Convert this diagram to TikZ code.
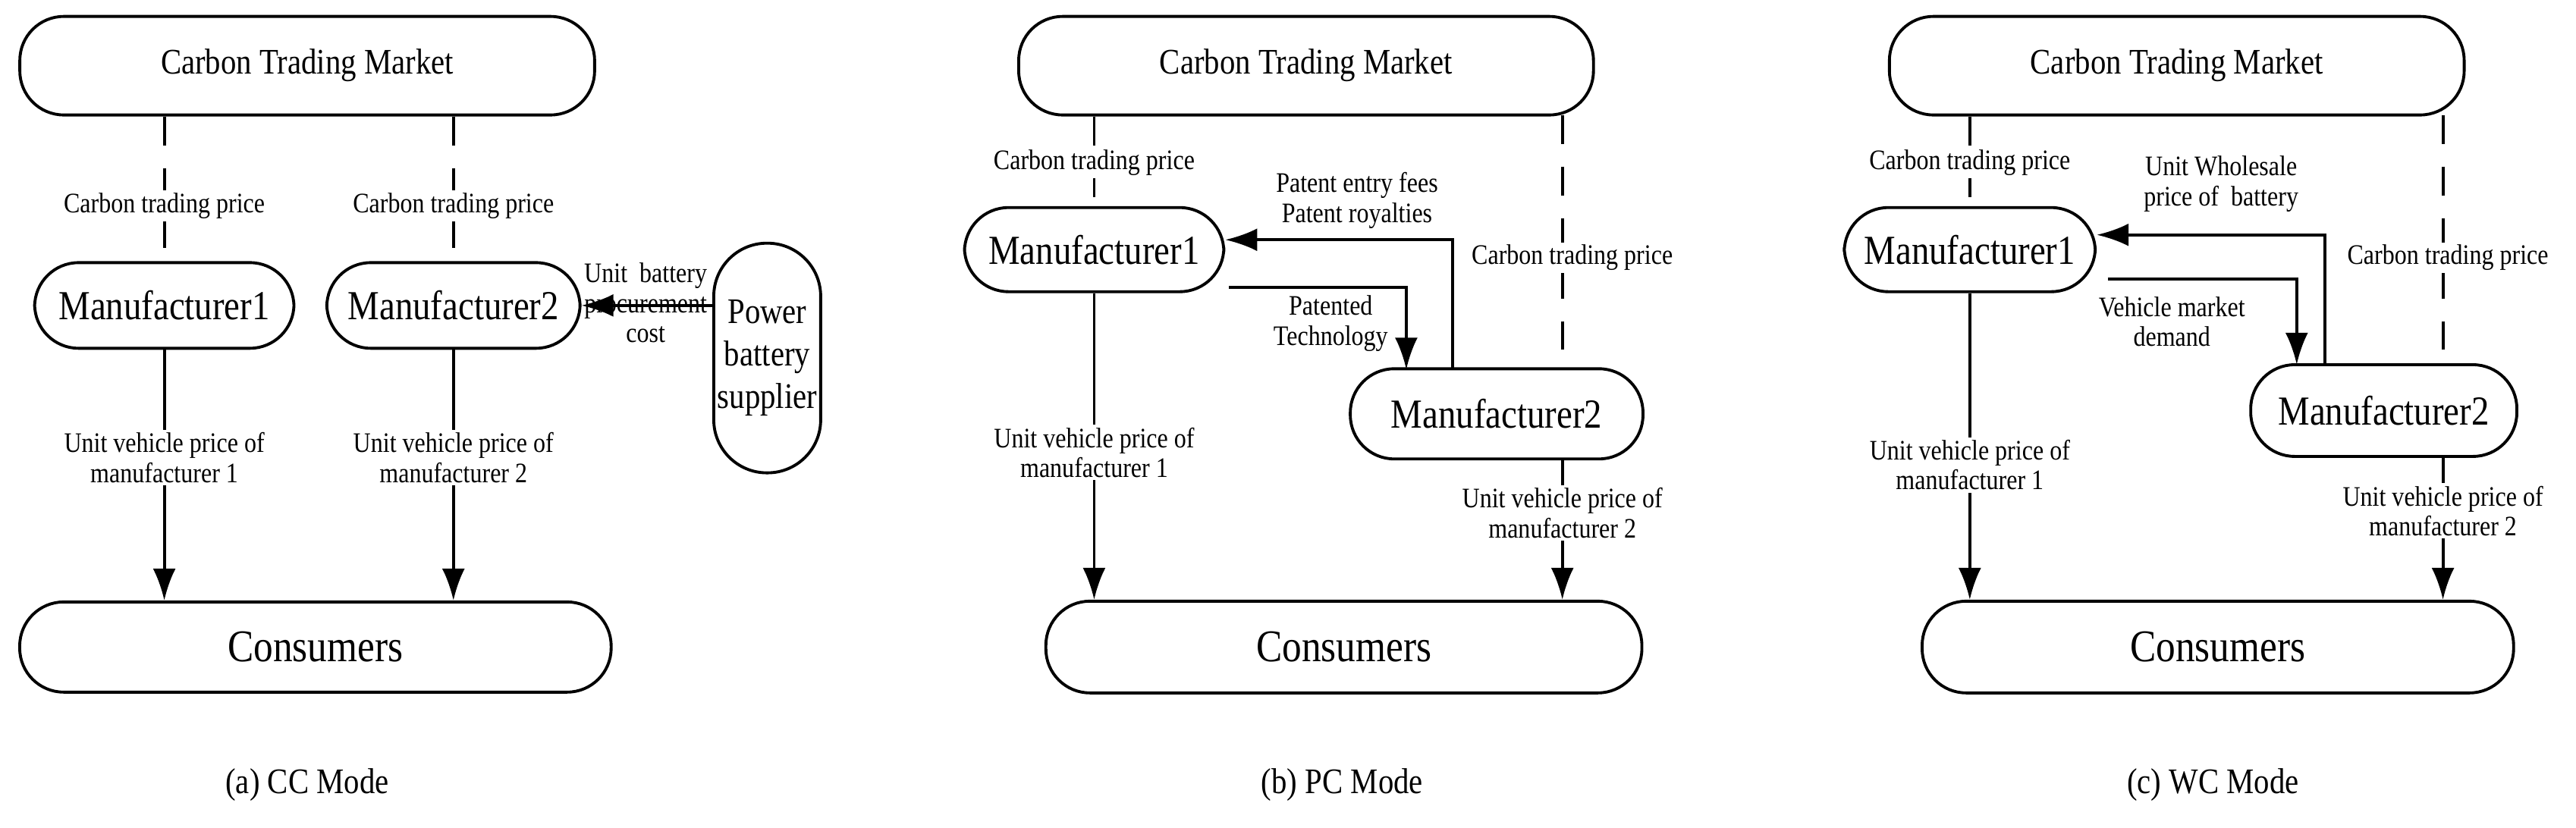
\documentclass[tikz,border=0pt]{standalone}
\usepackage{fontspec}
\setmainfont{Liberation Serif}[FakeStretch=0.86]
\usetikzlibrary{arrows.meta}

\tikzset{
    box/.style={draw, line width=1.1pt, rounded corners=0.58cm, align=center, inner sep=0pt},
    lbl/.style={fill=white, align=center, inner sep=1pt, font=\fontsize{10.6}{11.2}\selectfont},
    flow/.style={line width=1.1pt, -{Latex[length=0.42cm, width=0.3cm]}},
    tie/.style={line width=1.1pt, dash pattern=on 0.38cm off 0.3cm},
    modecap/.style={font=\fontsize{13.5}{15}\selectfont}
}

\begin{document}
\begin{tikzpicture}[x=0.02166cm, y=-0.02166cm]
        \path[use as bounding box] (0,0) rectangle (1568,504);
        % (a) CC Mode
        \node[box, minimum width=7.58cm, minimum height=1.3cm, font=\fontsize{13.5}{15}\selectfont] (ctmA) at (187,40) {Carbon Trading Market};
        \node[box, minimum width=3.42cm, minimum height=1.13cm, font=\fontsize{15.5}{17}\selectfont] (m1A) at (100,186) {Manufacturer1};
        \node[box, minimum width=3.34cm, minimum height=1.13cm, font=\fontsize{15.5}{17}\selectfont] (m2A) at (276,186) {Manufacturer2};
        \node[box, rounded corners=0.7cm, minimum width=1.41cm, minimum height=3.03cm, font=\fontsize{13.5}{16}\selectfont] (supA) at (467,218) {Power\\battery\\supplier};
        \node[box, minimum width=7.8cm, minimum height=1.19cm, font=\fontsize{17}{19}\selectfont] (conA) at (192,394) {Consumers};
        \draw[tie] (m1A.north |- ctmA.south) -- node[lbl, pos=0.62] {Carbon trading price} (m1A.north);
        \draw[tie] (m2A.north |- ctmA.south) -- node[lbl, pos=0.62] {Carbon trading price} (m2A.north);
        \draw[flow] (m1A.south) -- node[lbl, pos=0.43] {Unit vehicle price of\\manufacturer 1} (m1A.south |- conA.north);
        \draw[flow] (m2A.south) -- node[lbl, pos=0.43] {Unit vehicle price of\\manufacturer 2} (m2A.south |- conA.north);
        \draw[flow] (supA.west |- m2A.east) -- (m2A.east);
        \node[lbl, fill=none, inner sep=0pt, anchor=south] (bcA) at (393,209) {Unit\ \ battery\\procurement\\cost};
        \node[modecap] (capA) at (187,478) {(a) CC Mode};
        % (b) PC Mode
        \node[box, minimum width=7.58cm, minimum height=1.3cm, font=\fontsize{13.5}{15}\selectfont] (ctmB) at (795,40) {Carbon Trading Market};
        \node[box, minimum width=3.42cm, minimum height=1.11cm, font=\fontsize{15.5}{17}\selectfont] (m1B) at (666,152) {Manufacturer1};
        \node[box, minimum width=3.86cm, minimum height=1.19cm, font=\fontsize{15.5}{17}\selectfont] (m2B) at (911,252) {Manufacturer2};
        \node[box, minimum width=7.86cm, minimum height=1.21cm, font=\fontsize{17}{19}\selectfont] (conB) at (818,394) {Consumers};
        \coordinate (tB) at (951,70);
        \coordinate (bB) at (951,280);
        \draw[tie] (m1B.north |- ctmB.south) -- node[lbl, pos=0.52] {Carbon trading price} (m1B.north);
        \draw[tie] (tB) -- (tB |- m2B.north);
        \node[lbl] (ctpB) at (957,157) {Carbon trading price};
        \draw[flow] (884,225) |- (m1B.east |- 0,146);
        \node[lbl, fill=none, inner sep=0pt] (feeB) at (826,122) {Patent entry fees\\Patent royalties};
        \draw[flow] (748,175) -| (856,225);
        \node[lbl, fill=none, inner sep=0pt] (techB) at (810,197) {Patented\\Technology};
        \draw[flow] (m1B.south) -- node[lbl, pos=0.52] {Unit vehicle price of\\manufacturer 1} (m1B.south |- conB.north);
        \draw[flow] (bB) -- node[lbl, pos=0.38] {Unit vehicle price of\\manufacturer 2} (bB |- conB.north);
        \node[modecap] (capB) at (817,478) {(b) PC Mode};
        % (c) WC Mode
        \node[box, minimum width=7.58cm, minimum height=1.3cm, font=\fontsize{13.5}{15}\selectfont] (ctmC) at (1325,40) {Carbon Trading Market};
        \node[box, minimum width=3.31cm, minimum height=1.11cm, font=\fontsize{15.5}{17}\selectfont] (m1C) at (1199,152) {Manufacturer1};
        \node[box, minimum width=3.51cm, minimum height=1.21cm, font=\fontsize{15.5}{17}\selectfont] (m2C) at (1451,250) {Manufacturer2};
        \node[box, minimum width=7.8cm, minimum height=1.21cm, font=\fontsize{17}{19}\selectfont] (conC) at (1350,394) {Consumers};
        \coordinate (tC) at (1487,70);
        \coordinate (bC) at (1487,278);
        \draw[tie] (m1C.north |- ctmC.south) -- node[lbl, pos=0.52] {Carbon trading price} (m1C.north);
        \draw[tie] (tC) -- (tC |- m2C.north);
        \node[lbl] (ctpC) at (1490,157) {Carbon trading price};
        \draw[flow] (1415,222) |- (m1C.east |- 0,143);
        \node[lbl, fill=none, inner sep=0pt] (whC) at (1352,112) {Unit Wholesale\\price of\ \ battery};
        \draw[flow] (1283,170) -| (1398,222);
        \node[lbl, fill=none, inner sep=0pt] (demC) at (1322,196) {Vehicle market\\demand};
        \draw[flow] (m1C.south) -- node[lbl, pos=0.56] {Unit vehicle price of\\manufacturer 1} (m1C.south |- conC.north);
        \draw[flow] (bC) -- node[lbl, pos=0.38] {Unit vehicle price of\\manufacturer 2} (bC |- conC.north);
        \node[modecap] (capC) at (1347,478) {(c) WC Mode};
\end{tikzpicture}
\end{document}
